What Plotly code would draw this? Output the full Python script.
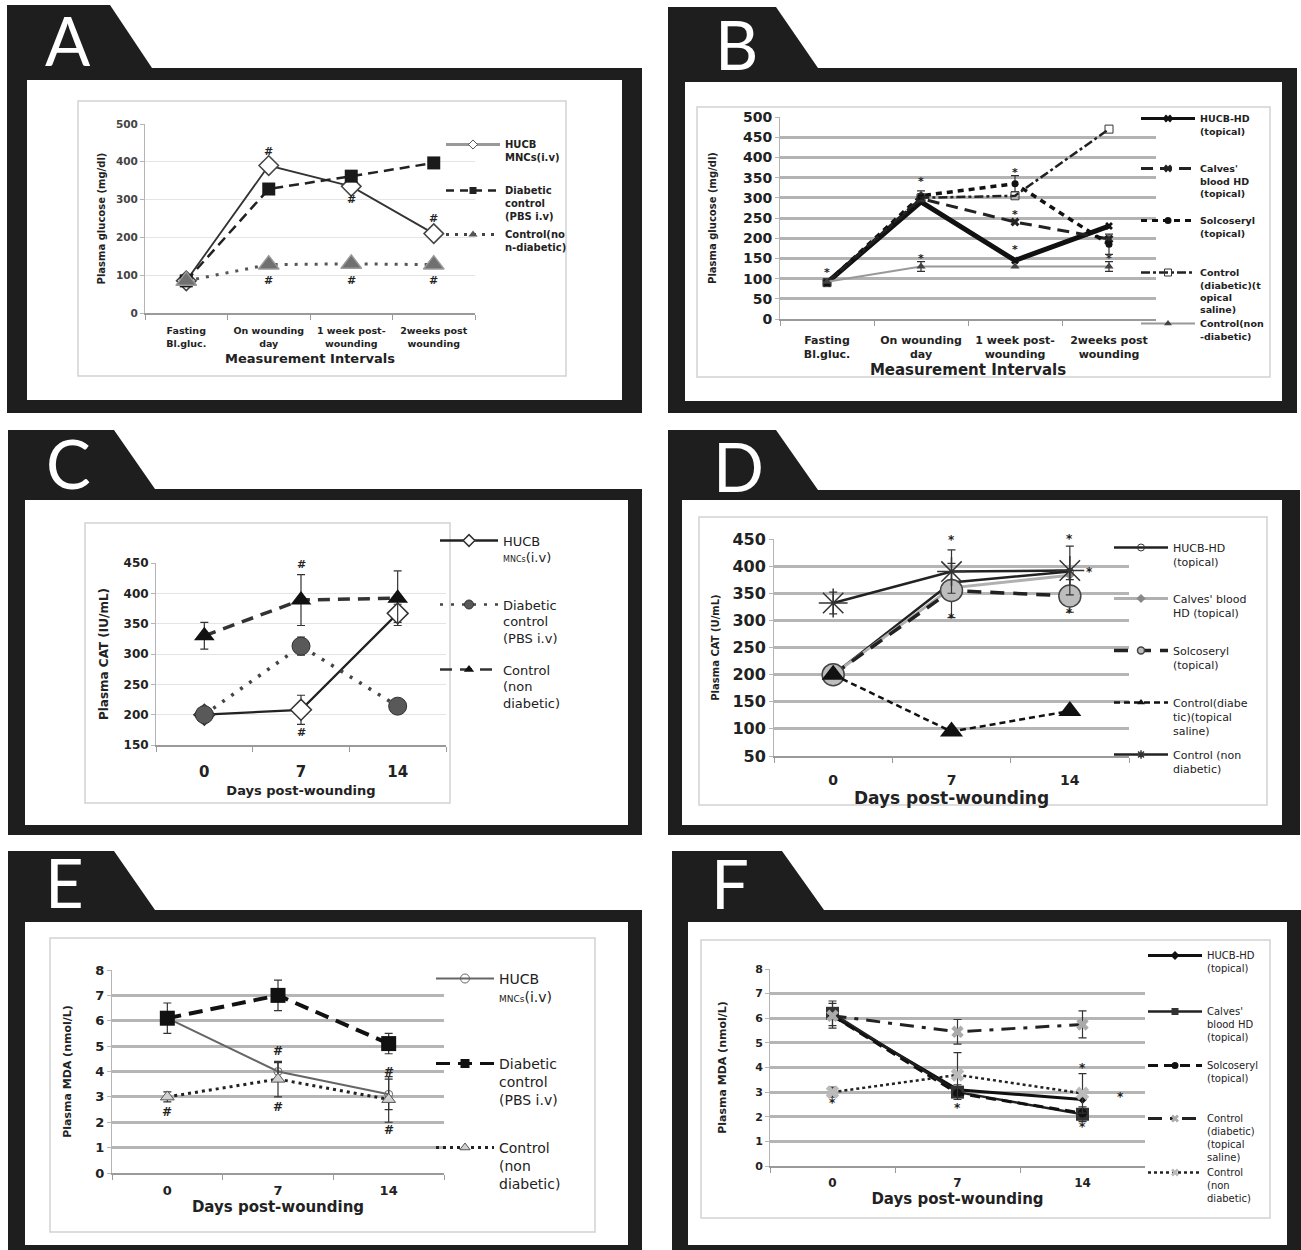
import plotly.graph_objects as go

W, H = 1301, 1250

# ---------------- data ----------------
intervals = ["Fasting<br>Bl.gluc.", "On wounding<br>day", "1 week post-<br>wounding", "2weeks post<br>wounding"]
days = ["0", "7", "14"]

# A: plasma glucose (mg/dl), i.v. treatment
a_hucb = [85, 390, 335, 210]
a_diabetic = [85, 328, 362, 397]
a_control = [85, 128, 130, 128]

# B: plasma glucose (mg/dl), topical treatment
b_hucb = [90, 290, 145, 230]
b_calves = [90, 298, 240, 198]
b_solco = [90, 305, 335, 185]
b_ctrl_diab = [90, 300, 305, 470]
b_ctrl_non = [92, 130, 130, 130]
b_solco_err = [0, 12, 20, 25]
b_ctrl_non_err = [0, 12, 0, 12]

# C: plasma CAT (IU/mL), i.v. treatment
c_hucb = [200, 208, 367]
c_hucb_err = [0, 24, 15]
c_diabetic = [200, 313, 214]
c_diabetic_err = [0, 15, 0]
c_control = [330, 389, 392]
c_control_err = [22, 42, 45]

# D: plasma CAT (U/mL), topical treatment
d_hucb = [200, 370, 390]
d_calves = [200, 360, 383]
d_solco = [200, 355, 345]
d_solco_err = [0, 50, 30]
d_ctrl_diab = [200, 95, 133]
d_ctrl_non = [332, 390, 392]
d_ctrl_non_err = [20, 40, 45]

# E: plasma MDA (nmol/L), i.v. treatment
e_hucb = [6.1, 4.0, 3.1]
e_hucb_err = [0, 0.35, 0.6]
e_diabetic = [6.1, 7.0, 5.1]
e_diabetic_err = [0.6, 0.6, 0.4]
e_control = [3.0, 3.7, 2.9]
e_control_err = [0.2, 0.7, 0.9]

# F: plasma MDA (nmol/L), topical treatment
f_hucb = [6.1, 3.1, 2.7]
f_calves = [6.2, 3.0, 2.1]
f_calves_err = [0.5, 0.3, 0.3]
f_solco = [6.1, 2.95, 2.15]
f_ctrl_diab = [6.1, 5.45, 5.75]
f_ctrl_diab_err = [0.5, 0.5, 0.55]
f_ctrl_non = [3.0, 3.7, 2.95]
f_ctrl_non_err = [0.2, 0.9, 0.8]

# significance marks: (category, value, symbol)
a_marks = [(intervals[1], 426, "#"), (intervals[2], 299, "#"), (intervals[3], 251, "#"),
           (intervals[1], 87, "#"), (intervals[2], 87, "#"), (intervals[3], 87, "#")]
b_marks = [(intervals[0], 115, "*"), (intervals[1], 340, "*"), (intervals[1], 150, "*"),
           (intervals[2], 362, "*"), (intervals[2], 258, "*"), (intervals[2], 172, "*"),
           (intervals[3], 150, "*")]
c_marks = [(days[1], 448, "#"), (days[1], 170, "#")]
d_marks = [(days[1], 448, "*"), (days[2], 450, "*"), (days[1], 304, "*"), (days[2], 313, "*")]
e_marks = [(days[0], 2.4, "#"), (days[1], 4.8, "#"), (days[1], 2.6, "#"), (days[2], 4.0, "#"), (days[2], 1.7, "#")]
f_marks = [(days[0], 2.55, "*"), (days[1], 2.35, "*"), (days[2], 1.6, "*"), (days[2], 4.0, "*")]

# ---------------- helpers ----------------
FONT = "DejaVu Sans"
TXT = "#222"


def px(x):
    return x / W


def py(y):
    return 1 - y / H


fig = go.Figure()
shapes = []
annotations = []
legends = {}
axes_layout = {}
leg_count = [0]


def refs(i):
    return ("x" if i == 1 else f"x{i}"), ("y" if i == 1 else f"y{i}")


def frame(letter, f, inner, rect, lpos):
    x0, yt, xtr, xse, ym, x1, yb = f
    path = (f"M{px(x0)},{py(yt)} L{px(xtr)},{py(yt)} L{px(xse)},{py(ym)} L{px(x1)},{py(ym)} "
            f"L{px(x1)},{py(yb)} L{px(x0)},{py(yb)} Z")
    shapes.append(dict(type="path", path=path, xref="paper", yref="paper",
                       fillcolor="#1e1e1e", line=dict(width=0), layer="below"))
    shapes.append(dict(type="rect", xref="paper", yref="paper", x0=px(inner[0]), y0=py(inner[1]),
                       x1=px(inner[2]), y1=py(inner[3]), fillcolor="white", line=dict(width=0), layer="below"))
    shapes.append(dict(type="rect", xref="paper", yref="paper", x0=px(rect[0]), y0=py(rect[1]),
                       x1=px(rect[2]), y1=py(rect[3]), fillcolor="rgba(0,0,0,0)",
                       line=dict(color="#d2d2d2", width=1.5), layer="below"))
    annotations.append(dict(text=letter, x=px(lpos[0]), y=py(lpos[1]), xref="paper", yref="paper",
                            showarrow=False, xanchor="center", yanchor="middle",
                            font=dict(family="Lato", size=67, color="white")))


def set_axes(i, plot, cats, yrange, dtick, xtick_size, ytick_size, xtitle, xtitle_size, ytitle, ytitle_size,
             grid_color, grid_width, xstandoff, ystandoff, xlab_off, ytick_color=TXT):
    x0, y0, x1, y1 = plot
    xr, yr = refs(i)
    xk = "xaxis" if i == 1 else f"xaxis{i}"
    yk = "yaxis" if i == 1 else f"yaxis{i}"
    axes_layout[xk] = dict(domain=[px(x0), px(x1)], anchor=yr, type="category", categoryorder="array",
                           categoryarray=cats, range=[-0.5, len(cats) - 0.5], showgrid=False, zeroline=False,
                           showline=True, linecolor="#9a9a9a", linewidth=1.5, ticks="outside",
                           tickson="boundaries", ticklen=5, tickcolor="#9a9a9a", tickangle=0,
                           ticklabelstandoff=xlab_off,
                           tickfont=dict(family=FONT, size=xtick_size, color=TXT, weight="bold"),
                           title=dict(text=xtitle, standoff=xstandoff,
                                      font=dict(family=FONT, size=xtitle_size, color=TXT, weight="bold")),
                           fixedrange=True)
    axes_layout[yk] = dict(domain=[py(y1), py(y0)], anchor=xr, range=yrange, dtick=dtick, showgrid=True,
                           gridcolor=grid_color, gridwidth=grid_width, zeroline=False, showline=True,
                           linecolor="#b5b5b5", linewidth=1, ticks="outside", ticklen=4, tickcolor="#b5b5b5",
                           tickfont=dict(family=FONT, size=ytick_size, color=ytick_color, weight="bold"),
                           title=dict(text=ytitle, standoff=ystandoff,
                                      font=dict(family=FONT, size=ytitle_size, color=TXT, weight="bold")),
                           fixedrange=True)


def add_series(i, cats, vals, line, marker, err=None):
    xr, yr = refs(i)
    kw = {}
    if err is not None:
        kw["error_y"] = dict(type="data", array=err, visible=True, color="#333", thickness=1.2, width=4)
    fig.add_trace(go.Scatter(x=cats, y=vals, mode="lines+markers", line=line, marker=marker,
                             showlegend=False, xaxis=xr, yaxis=yr, hoverinfo="skip", **kw))


def add_legend(i, name, line, marker, xleft, yfirst, sample_w, fsize, weight="normal"):
    xr, yr = refs(i)
    leg_count[0] += 1
    lid = "legend" if leg_count[0] == 1 else f"legend{leg_count[0]}"
    fig.add_trace(go.Scatter(x=[None], y=[None], mode="lines+markers", name=name, line=line, marker=marker,
                             legend=lid, showlegend=True, xaxis=xr, yaxis=yr))
    L = 1.3 * fsize
    legends[lid] = dict(x=px(xleft - 5), y=py(yfirst - 5 - L / 2), xanchor="left", yanchor="top",
                        bgcolor="rgba(0,0,0,0)", borderwidth=0, itemwidth=max(30, sample_w), valign="top",
                        itemclick=False, itemdoubleclick=False,
                        font=dict(family=FONT, size=fsize, color=TXT, weight=weight))


def add_marks(i, cats, marks, size, xshift=0):
    # category axes: annotation x given as the category's serial position
    xr, yr = refs(i)
    for cat, val, sym in marks:
        annotations.append(dict(x=cats.index(cat), y=val, xref=xr, yref=yr, text=sym, showarrow=False,
                                xshift=xshift, font=dict(family=FONT, size=size, color="#222", weight="bold")))


# ---------------- panel A ----------------
frame("A", (7, 5, 110, 152, 68, 642, 413), (27, 80, 622, 400), (78, 101, 566, 376), (68, 40))
set_axes(1, (145, 124, 475, 313), intervals, [0, 500], 100, 9.5, 10.5, "Measurement Intervals", 13,
         "Plasma glucose (mg/dl)", 10, "#e4e4e4", 1, 6, 8, 8, ytick_color="#444")
A_styles = [
    (a_hucb, dict(color="#333", width=1.8),
     dict(symbol="diamond", size=15, color="white", line=dict(color="#444", width=1.5))),
    (a_diabetic, dict(color="#222", width=2.5, dash="10px,6px"),
     dict(symbol="square", size=13, color="#1a1a1a")),
    (a_control, dict(color="#555", width=3, dash="3px,7px"),
     dict(symbol="triangle-up", size=18, color="#707070", line=dict(color="#9a9a9a", width=1.5))),
]
for vals, ln, mk in A_styles:
    add_series(1, intervals, vals, ln, mk)
add_marks(1, intervals, a_marks, 11)
add_legend(1, "HUCB<br>MNCs(i.v)", dict(color="#999", width=3),
           dict(symbol="diamond", size=7, color="white", line=dict(color="#555", width=1)), 446, 143, 54, 10, "bold")
add_legend(1, "Diabetic<br>control<br>(PBS i.v)", dict(color="#222", width=2.5, dash="8px,6px"),
           dict(symbol="square", size=7, color="#222"), 446, 189, 54, 10, "bold")
add_legend(1, "Control(no<br>n-diabetic)", dict(color="#444", width=3, dash="3px,6px"),
           dict(symbol="triangle-up", size=8, color="#555"), 446, 233, 54, 10, "bold")

# ---------------- panel B ----------------
frame("B", (668, 7, 776, 818, 68, 1297, 413), (685, 82, 1282, 401), (697, 107, 1270, 377), (736, 44))
set_axes(2, (780, 117, 1156, 319), intervals, [0, 500], 50, 11, 14, "Measurement Intervals", 15,
         "Plasma glucose (mg/dl)", 10, "#b3b3b3", 3, 0, 24, 10)
B_styles = [
    (b_hucb, dict(color="#111", width=5), dict(symbol="x", size=7, color="#111"), None),
    (b_calves, dict(color="#222", width=3, dash="12px,7px"), dict(symbol="x", size=8, color="#222"), None),
    (b_solco, dict(color="#111", width=3.5, dash="6px,5px"), dict(symbol="circle", size=7, color="#111"), b_solco_err),
    (b_ctrl_diab, dict(color="#222", width=2.5, dash="dashdot"),
     dict(symbol="square-open", size=8, color="#333"), None),
    (b_ctrl_non, dict(color="#999", width=2), dict(symbol="triangle-up", size=8, color="#444"), b_ctrl_non_err),
]
for vals, ln, mk, er in B_styles:
    add_series(2, intervals, vals, ln, mk, er)
add_marks(2, intervals, b_marks, 11)
b_leg = [("HUCB-HD<br>(topical)", 117), ("Calves'<br>blood HD<br>(topical)", 167), ("Solcoseryl<br>(topical)", 219),
         ("Control<br>(diabetic)(t<br>opical<br>saline)", 271), ("Control(non<br>-diabetic)", 322)]
for (name, yy), (_, ln, mk, _e) in zip(b_leg, B_styles):
    l2 = dict(ln)
    l2["width"] = min(l2["width"], 3)
    add_legend(2, name, l2, dict(mk, size=7), 1141, yy, 54, 9.5, "bold")

# ---------------- panel C ----------------
frame("C", (8, 430, 114, 155, 489, 642, 835), (25, 500, 628, 825), (85, 523, 450, 803), (68, 463))
set_axes(3, (156, 563, 446, 745), days, [150, 450], 50, 15, 12, "Days post-wounding", 13,
         "Plasma CAT (IU/mL)", 12, "#e4e4e4", 1, 6, 12, 12)
C_styles = [
    (c_hucb, dict(color="#222", width=2.2),
     dict(symbol="diamond", size=16, color="white", line=dict(color="#333", width=1.5)), c_hucb_err),
    (c_diabetic, dict(color="#444", width=3.5, dash="3px,8px"),
     dict(symbol="circle", size=18, color="#595959", line=dict(color="#333", width=1)), c_diabetic_err),
    (c_control, dict(color="#333", width=3.5, dash="12px,8px"),
     dict(symbol="triangle-up", size=18, color="#111"), c_control_err),
]
for vals, ln, mk, er in C_styles:
    add_series(3, days, vals, ln, mk, er)
add_marks(3, days, c_marks, 11)
c_leg = [("HUCB<br><span style='font-size:8px'>MNCs</span>(i.v)", 539), ("Diabetic<br>control<br>(PBS i.v)", 603),
         ("Control<br>(non<br>diabetic)", 668)]
for (name, yy), (_, ln, mk, _e) in zip(c_leg, C_styles):
    add_legend(3, name, dict(ln, width=2.5), dict(mk, size=9), 440, yy, 58, 13)

# ---------------- panel D ----------------
frame("D", (668, 430, 776, 818, 490, 1300, 835), (682, 500, 1282, 825), (699, 517, 1267, 805), (738, 466))
set_axes(4, (774, 539, 1129, 756), days, [50, 450], 50, 14, 16, "Days post-wounding", 17,
         "Plasma CAT (U/mL)", 10, "#b5b5b5", 3, 0, 10, 10)
D_styles = [
    (d_hucb, dict(color="#222", width=2.5), dict(symbol="circle-open", size=7, color="#333"), None),
    (d_calves, dict(color="#b0b0b0", width=3), dict(symbol="diamond", size=7, color="#888"), None),
    (d_solco, dict(color="#222", width=3.5, dash="14px,9px"),
     dict(symbol="circle", size=22, color="#bdbdbd", line=dict(color="#444", width=1.5)), d_solco_err),
    (d_ctrl_diab, dict(color="#111", width=2.5, dash="6px,4px"),
     dict(symbol="triangle-up", size=20, color="#111"), None),
    (d_ctrl_non, dict(color="#222", width=2.5),
     dict(symbol="asterisk-open", size=24, color="#333", line=dict(color="#333", width=1.5)), d_ctrl_non_err),
]
for vals, ln, mk, er in D_styles:
    add_series(4, days, vals, ln, mk, er)
add_marks(4, days, d_marks, 12)
add_marks(4, days, [(days[2], 389, "*")], 12, xshift=20)
d_leg = [("HUCB-HD<br>(topical)", 546), ("Calves' blood<br>HD (topical)", 597), ("Solcoseryl<br>(topical)", 649),
         ("Control(diabe<br>tic)(topical<br>saline)", 701), ("Control (non<br>diabetic)", 753)]
for (name, yy), (_, ln, mk, _e) in zip(d_leg, D_styles):
    mk2 = dict(mk)
    mk2["size"] = 7
    add_legend(4, name, ln, mk2, 1114, yy, 54, 11)

# ---------------- panel E ----------------
frame("E", (8, 851, 114, 155, 910, 642, 1262), (25, 922, 628, 1245), (50, 938, 595, 1232), (64, 882))
set_axes(5, (112, 970, 444, 1173), days, [0, 8], 1, 13, 13, "Days post-wounding", 15,
         "Plasma MDA (nmol/L)", 11, "#b5b5b5", 3, 0, 21, 5)
E_styles = [
    (e_hucb, dict(color="#666", width=2), dict(symbol="circle-open", size=8, color="#666"), e_hucb_err),
    (e_diabetic, dict(color="#111", width=4, dash="14px,8px"), dict(symbol="square", size=15, color="#111"),
     e_diabetic_err),
    (e_control, dict(color="#222", width=3, dash="3px,4px"),
     dict(symbol="triangle-up", size=12, color="#d0d0d0", line=dict(color="#555", width=1)), e_control_err),
]
for vals, ln, mk, er in E_styles:
    add_series(5, days, vals, ln, mk, er)
add_marks(5, days, e_marks, 12)
e_leg = [("HUCB<br><span style='font-size:9px'>MNCs</span>(i.v)", 977), ("Diabetic<br>control<br>(PBS i.v)", 1062),
         ("Control<br>(non<br>diabetic)", 1146)]
for (name, yy), (_, ln, mk, _e) in zip(e_leg, E_styles):
    add_legend(5, name, dict(ln, width=min(ln["width"], 3)), dict(mk, size=9), 436, yy, 58, 14)

# ---------------- panel F ----------------
frame("F", (672, 851, 782, 824, 910, 1310, 1262), (688, 922, 1287, 1245), (701, 940, 1270, 1218), (730, 883))
set_axes(6, (770, 969, 1145, 1166), days, [0, 8], 1, 12, 11, "Days post-wounding", 15,
         "Plasma MDA (nmol/L)", 11, "#b5b5b5", 3, 0, 26, 5)
F_styles = [
    (f_hucb, dict(color="#111", width=3), dict(symbol="diamond", size=7, color="#111"), None),
    (f_calves, dict(color="#222", width=2.5), dict(symbol="square", size=13, color="#333"), f_calves_err),
    (f_solco, dict(color="#111", width=3, dash="10px,6px"), dict(symbol="circle", size=9, color="#111"), None),
    (f_ctrl_diab, dict(color="#222", width=3, dash="14px,8px,4px,8px"),
     dict(symbol="x", size=11, color="#aaa"), f_ctrl_diab_err),
    (f_ctrl_non, dict(color="#222", width=2.5, dash="3px,3px"), dict(symbol="x", size=12, color="#bbb"),
     f_ctrl_non_err),
]
for vals, ln, mk, er in F_styles:
    add_series(6, days, vals, ln, mk, er)
add_marks(6, days, f_marks, 12)
add_marks(6, days, [(days[2], 2.8, "*")], 12, xshift=38)
f_leg = [("HUCB-HD<br>(topical)", 954), ("Calves'<br>blood HD<br>(topical)", 1010), ("Solcoseryl<br>(topical)", 1064),
         ("Control<br>(diabetic)<br>(topical<br>saline)", 1117), ("Control<br>(non<br>diabetic)", 1171)]
for (name, yy), (_, ln, mk, _e) in zip(f_leg, F_styles):
    mk2 = dict(mk)
    mk2["size"] = 7
    add_legend(6, name, ln, mk2, 1148, yy, 54, 10)

fig.update_layout(
    width=W, height=H, margin=dict(l=0, r=0, t=0, b=0, autoexpand=False),
    paper_bgcolor="white", plot_bgcolor="rgba(0,0,0,0)",
    shapes=shapes, annotations=annotations, hovermode=False,
    font=dict(family=FONT, color=TXT),
    **axes_layout, **legends,
)

fig.write_html("out.html", post_script="document.body.style.margin='0';document.body.style.overflow='hidden';",
               config={"displayModeBar": False})
